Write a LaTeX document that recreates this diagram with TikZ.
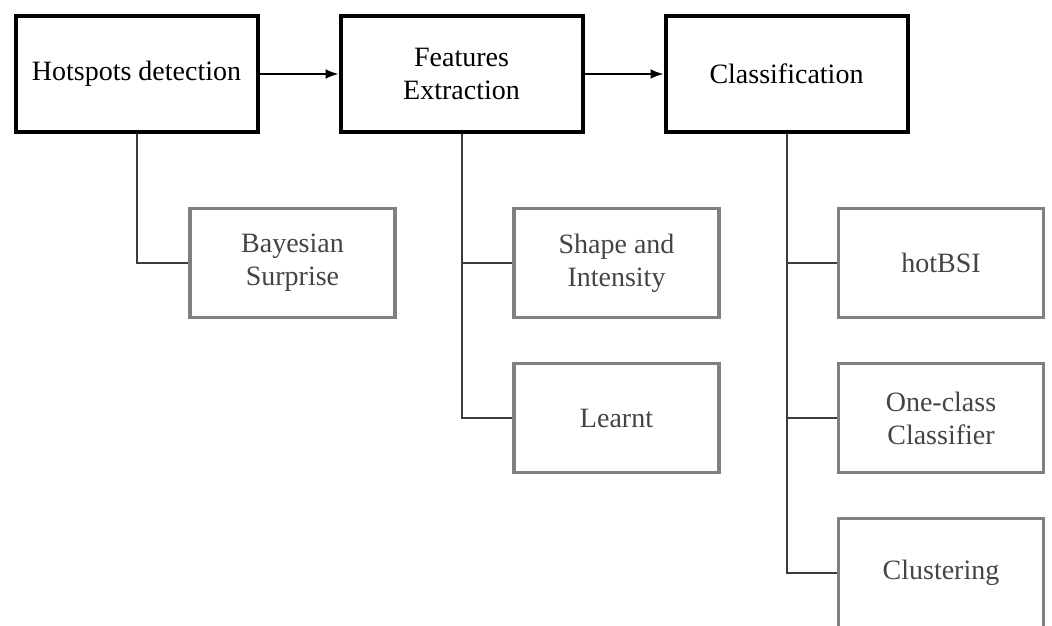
\documentclass[tikz,border=0pt]{standalone}
\usepackage{fontspec}
\setmainfont{Liberation Serif}
\usetikzlibrary{arrows.meta}
\definecolor{subline}{RGB}{128,128,128}
\definecolor{subtext}{RGB}{68,68,68}
\definecolor{conn}{RGB}{60,60,60}
\tikzset{
  mainbox/.style={draw=black, line width=4pt, rectangle, minimum width=242pt, minimum height=116pt, inner sep=0pt, align=center, font=\fontsize{28}{33}\selectfont},
  subbox/.style={draw=subline, line width=3.2pt, rectangle, minimum width=205pt, minimum height=109pt, inner sep=0pt, align=center, text=subtext, font=\fontsize{28}{33}\selectfont},
  flow/.style={draw=black, line width=2pt, -{Latex[length=13pt,width=10pt]}},
  branch/.style={draw=conn, line width=2pt},
}
\begin{document}
\begin{tikzpicture}[x=1pt,y=-1pt]
\useasboundingbox (0,0) rectangle (1052,625);
\node[mainbox] (hot) at (136.5,74) {Hotspots detection};
\node[mainbox] (feat) at (461.5,74) {Features\\Extraction};
\node[mainbox] (cls) at (786.5,74) {Classification};
\node[subbox] (bay) at (292.5,263) {Bayesian\\Surprise};
\node[subbox] (shape) at (616.5,263) {Shape and\\Intensity};
\node[subbox] (learnt) at (616.5,418) {Learnt};
\node[subbox] (hbsi) at (941,263) {hotBSI};
\node[subbox] (ocls) at (941,418) {One-class\\Classifier};
\node[subbox] (clus) at (941,573) {Clustering};
\draw[flow] (hot.east) -- (feat.west);
\draw[flow] (feat.east) -- (cls.west);
\draw[branch] (hot.south) |- (bay.west);
\draw[branch] (feat.south) |- (shape.west);
\draw[branch] (feat.south) |- (learnt.west);
\draw[branch] (cls.south) |- (hbsi.west);
\draw[branch] (cls.south) |- (ocls.west);
\draw[branch] (cls.south) |- (clus.west);
\end{tikzpicture}
\end{document}
